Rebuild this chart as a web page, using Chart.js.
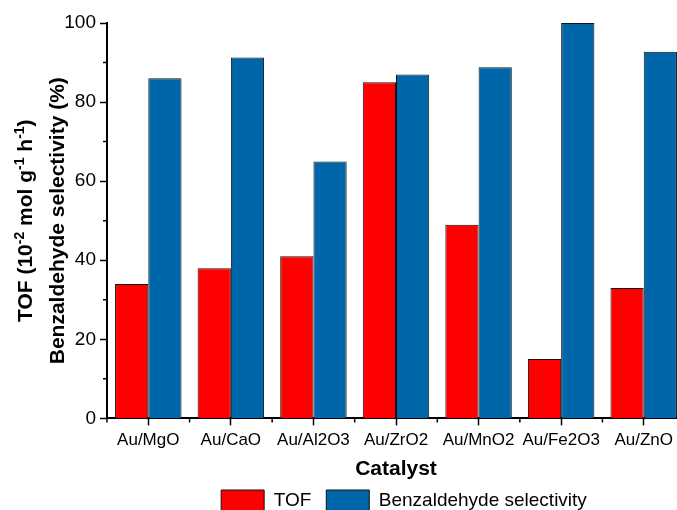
<!DOCTYPE html>
<html>
<head>
<meta charset="utf-8">
<script src="https://cdn.jsdelivr.net/npm/chart.js@4.4.0/dist/chart.umd.min.js"></script>
<style>
  html, body { margin: 0; padding: 0; overflow: hidden; background: #fff; }
  #wrap { position: absolute; left: 0; top: 0; width: 685px; height: 522px; }
</style>
</head>
<body>
<div id="wrap"><canvas id="myChart"></canvas></div>
<script>
// values
const catalysts = ['Au/MgO', 'Au/CaO', 'Au/Al2O3', 'Au/ZrO2', 'Au/MnO2', 'Au/Fe2O3', 'Au/ZnO'];
const tofValues = [34, 38, 41, 85, 49, 15, 33];
const selectivityValues = [86, 91.3, 65, 87, 88.8, 100, 92.7];
const yMinorTicks = [10, 30, 50, 70, 90];

Chart.defaults.font.family = 'Arial, "Liberation Sans", sans-serif';
Chart.defaults.color = '#000';

// small ticks between categories and between the labelled y ticks
const minorTicks = {
  id: 'minorTicks',
  afterDraw(chart) {
    const ctx = chart.ctx;
    const x = chart.scales.x, y = chart.scales.y;
    ctx.save();
    ctx.strokeStyle = '#000';
    ctx.lineWidth = 1.5;
    ctx.beginPath();
    yMinorTicks.forEach(function (v) {
      const py = y.getPixelForValue(v);
      ctx.moveTo(chart.chartArea.left - 4, py);
      ctx.lineTo(chart.chartArea.left, py);
    });
    for (let i = 0; i <= catalysts.length; i++) {
      const px = x.getPixelForValue(i - 0.5);
      ctx.moveTo(px, chart.chartArea.bottom);
      ctx.lineTo(px, chart.chartArea.bottom + 4);
    }
    ctx.stroke();
    ctx.restore();
  }
};

// legend sits a little right of the plot centre in the original
const legendShift = {
  id: 'legendShift',
  afterLayout(chart) {
    chart.legend.left += 8;
    chart.legend.right += 8;
  }
};

// y axis title in two lines, with superscripts
const yTitle = {
  id: 'yTitle',
  afterDraw(chart) {
    const ctx = chart.ctx;
    const area = chart.chartArea;
    const cy = (area.top + area.bottom) / 2;
    const big = 'bold 21px Arial, "Liberation Sans", sans-serif';
    const small = 'bold 14px Arial, "Liberation Sans", sans-serif';
    const line1 = [['TOF (10', 0], ['-2', 1], [' mol g', 0], ['-1', 1], [' h', 0], ['-1', 1], [')', 0]];
    ctx.save();
    ctx.fillStyle = '#000';
    ctx.textBaseline = 'alphabetic';
    ctx.translate(32, cy);
    ctx.rotate(-Math.PI / 2);
    let total = 0;
    line1.forEach(function (p) { ctx.font = p[1] ? small : big; total += ctx.measureText(p[0]).width; });
    let px = -total / 2;
    ctx.textAlign = 'left';
    line1.forEach(function (p) {
      ctx.font = p[1] ? small : big;
      ctx.fillText(p[0], px, p[1] ? -8 : 0);
      px += ctx.measureText(p[0]).width;
    });
    ctx.restore();

    ctx.save();
    ctx.fillStyle = '#000';
    ctx.font = big;
    ctx.textAlign = 'center';
    ctx.translate(58, cy);
    ctx.rotate(-Math.PI / 2);
    ctx.fillText('Benzaldehyde selectivity (%)', 0, 0);
    ctx.restore();
  }
};

let ctx = document.getElementById('myChart').getContext('2d');
let myChart = new Chart(ctx, {
  type: 'bar',
  data: {
    labels: catalysts,
    datasets: [{
      label: 'TOF',
      data: tofValues,
      backgroundColor: '#ff0000',
      borderColor: '#111',
      borderWidth: 1,
      categoryPercentage: 0.805,
      barPercentage: 1
    }, {
      label: 'Benzaldehyde selectivity',
      data: selectivityValues,
      backgroundColor: '#0066aa',
      borderColor: '#111',
      borderWidth: 1,
      categoryPercentage: 0.805,
      barPercentage: 1
    }]
  },
  options: {
    responsive: true,
    maintainAspectRatio: false,
    animation: false,
    layout: { padding: { top: 23, left: 0, right: 0, bottom: 0 } },
    plugins: {
      legend: {
        position: 'bottom',
        fullSize: false,
        labels: {
          boxWidth: 43,
          boxHeight: 22,
          padding: 15,
          font: { size: 19 },
          color: '#000'
        }
      },
      tooltip: { enabled: false }
    },
    scales: {
      x: {
        grid: { drawOnChartArea: false, offset: false, tickLength: 7, tickWidth: 1.5, tickColor: '#000' },
        border: { color: '#000', width: 2 },
        ticks: { font: { size: 17 }, color: '#000', padding: 5, maxRotation: 0, autoSkip: false },
        title: { display: true, text: 'Catalyst', font: { size: 21, weight: 'bold' }, color: '#000', padding: { top: 1, bottom: -7 } }
      },
      y: {
        min: 0,
        max: 100,
        ticks: { stepSize: 20, font: { size: 19 }, color: '#000', padding: 4 },
        grid: { drawOnChartArea: false, tickLength: 7, tickWidth: 1.5, tickColor: '#000' },
        border: { color: '#000', width: 2 },
        afterFit: function (s) { s.width = 107; }
      }
    }
  },
  plugins: [minorTicks, legendShift, yTitle]
});
</script>
</body>
</html>
